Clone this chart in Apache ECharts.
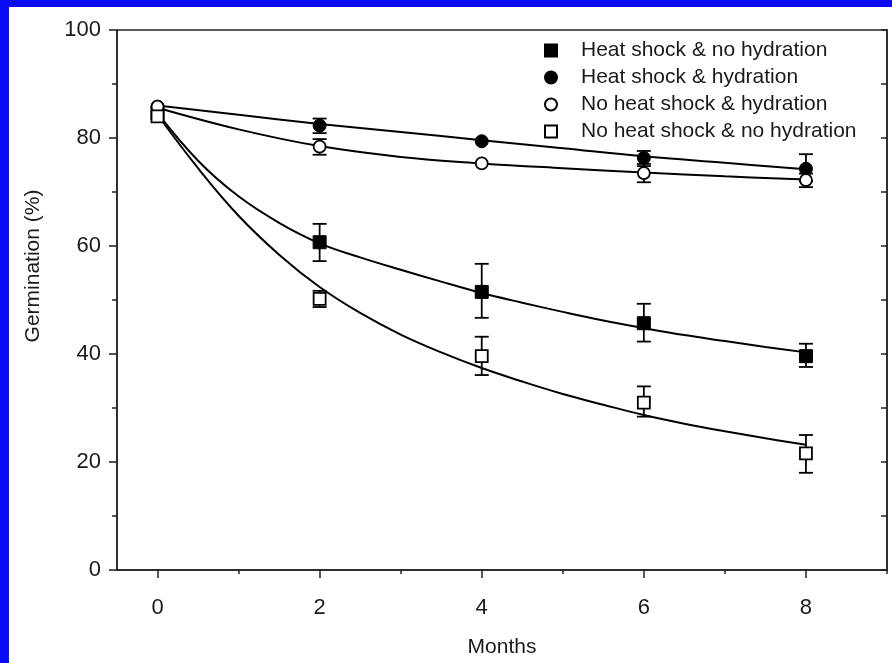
<!DOCTYPE html>
<html>
<head>
<meta charset="utf-8">
<script src="https://cdn.jsdelivr.net/npm/echarts@6/dist/echarts.min.js"></script>
<style>html,body{margin:0;padding:0;background:#fff;}#c{width:892px;height:663px;}</style>
</head>
<body>
<div id="c"></div>
<script>
// ---- data ----
const months = [0, 2, 4, 6, 8];
const xTickLabels = [0, 2, 4, 6, 8];
const xMinorTicks = [1, 3, 5, 7, 9];
const seriesNames = ['Heat shock & no hydration', 'Heat shock & hydration', 'No heat shock & hydration', 'No heat shock & no hydration'];

const hsNoHyd     = [84.5, 60.7, 51.5, 45.7, 39.6];
const hsNoHydLow  = [84.5, 57.2, 46.7, 42.3, 37.6];
const hsNoHydHigh = [84.5, 64.1, 56.7, 49.3, 41.9];

const hsHyd     = [85.8, 82.3, 79.4, 76.3, 74.3];
const hsHydLow  = [85.8, 80.9, 79.4, 74.8, 72.0];
const hsHydHigh = [85.8, 83.6, 79.4, 77.6, 77.0];

const nhsHyd     = [85.8, 78.4, 75.3, 73.5, 72.2];
const nhsHydLow  = [85.8, 76.9, 75.3, 71.8, 70.9];
const nhsHydHigh = [85.8, 79.8, 75.3, 75.2, 73.4];

const nhsNoHyd     = [84.0, 50.2, 39.6, 31.0, 21.6];
const nhsNoHydLow  = [84.0, 48.7, 36.1, 28.4, 18.0];
const nhsNoHydHigh = [84.0, 51.7, 43.2, 34.0, 25.0];

// fitted curves
const fitMonthsLow  = [0, 0.5, 1, 1.5, 2, 2.5, 3, 3.5, 4, 4.5, 5, 5.5, 6, 6.5, 7, 7.5, 8];
const hsNoHydFit    = [84.6, 75.8, 69.2, 64.3, 60.5, 57.9, 55.6, 53.4, 51.3, 49.5, 47.8, 46.2, 44.8, 43.5, 42.4, 41.3, 40.3];
const nhsNoHydFit   = [84.3, 74.4, 65.6, 58.4, 52.4, 47.6, 43.6, 40.3, 37.4, 34.9, 32.6, 30.6, 28.7, 27.1, 25.7, 24.4, 23.2];
const fitMonthsHigh = [0, 1, 2, 3, 4, 5, 6, 7, 8];
const hsHydFit      = [86.0, 84.3, 82.6, 81.1, 79.6, 78.1, 76.6, 75.4, 74.2];
const nhsHydFit     = [85.6, 81.6, 78.5, 76.5, 75.3, 74.4, 73.6, 72.9, 72.3];

// ---- build ----
const FONT = 'Liberation Sans, Arial, sans-serif';
const pairs = (xs, ys) => xs.map((x, i) => [x, ys[i]]);
const errData = (lo, hi) => months.map((m, i) => [m, lo[i], hi[i]]).filter(d => d[2] - d[1] > 0.01);

function errSeries(lo, hi) {
  return {
    type: 'custom', silent: true, z: 3,
    renderItem: function (params, api) {
      const x = api.value(0);
      const pLo = api.coord([x, api.value(1)]);
      const pHi = api.coord([x, api.value(2)]);
      const w = 7;
      const st = { stroke: '#000', lineWidth: 1.8 };
      return {
        type: 'group',
        children: [
          { type: 'line', shape: { x1: pLo[0], y1: pLo[1], x2: pHi[0], y2: pHi[1] }, style: st },
          { type: 'line', shape: { x1: pLo[0] - w, y1: pLo[1], x2: pLo[0] + w, y2: pLo[1] }, style: st },
          { type: 'line', shape: { x1: pHi[0] - w, y1: pHi[1], x2: pHi[0] + w, y2: pHi[1] }, style: st }
        ]
      };
    },
    encode: { x: 0, y: [1, 2] },
    data: errData(lo, hi)
  };
}
function fitSeries(xs, ys) {
  return {
    type: 'line', smooth: 0.4, showSymbol: false, silent: true, z: 2,
    lineStyle: { color: '#000', width: 2 },
    data: pairs(xs, ys)
  };
}
function markSeries(name, ys, symbol, size, filled) {
  return {
    name: name, type: 'scatter', symbol: symbol, symbolSize: size, z: 5,
    itemStyle: filled ? { color: '#000', borderColor: '#000', borderWidth: 1, opacity: 1 }
                      : { color: '#fff', borderColor: '#000', borderWidth: 1.8, opacity: 1 },
    data: pairs(months, ys)
  };
}

const chart = echarts.init(document.getElementById('c'), null, { renderer: 'canvas' });
chart.setOption({
  backgroundColor: '#fff',
  animation: false,
  graphic: [
    { type: 'rect', shape: { x: 0, y: 0, width: 892, height: 7 }, style: { fill: '#0a0af5' }, z: 100 },
    { type: 'rect', shape: { x: 0, y: 0, width: 9, height: 663 }, style: { fill: '#0a0af5' }, z: 100 },
    { type: 'text', x: 33, y: 266, rotation: Math.PI / 2,
      style: { text: 'Germination (%)', font: '21px ' + FONT, fill: '#1a1a1a', align: 'center', verticalAlign: 'middle' } }
  ],
  grid: { left: 117, right: 5, top: 30, bottom: 93, show: true, borderColor: '#222', borderWidth: 1.5,
          containLabel: false, outerBoundsMode: 'none' },
  legend: {
    orient: 'vertical', left: 539, top: 35,
    itemWidth: 12, itemHeight: 12, itemGap: 6,
    textStyle: { fontSize: 21, color: '#1a1a1a', fontFamily: FONT, padding: [0, 0, 0, 19] },
    data: seriesNames
  },
  xAxis: [
    {
      type: 'value', min: -0.5, max: 9,
      name: 'Months', nameLocation: 'middle', nameGap: 67,
      nameTextStyle: { fontSize: 21, color: '#1a1a1a', fontFamily: FONT },
      axisLine: { show: true, onZero: false, lineStyle: { color: '#222', width: 1.5 } },
      axisTick: { show: true, customValues: xTickLabels, length: 8, lineStyle: { color: '#222', width: 1.5 } },
      axisLabel: { customValues: xTickLabels, margin: 27, fontSize: 22, color: '#1a1a1a', fontFamily: FONT },
      splitLine: { show: false }
    },
    {
      type: 'value', min: -0.5, max: 9, position: 'bottom',
      axisLine: { show: false, onZero: false },
      axisTick: { show: true, customValues: xMinorTicks, length: 4, lineStyle: { color: '#222', width: 1.5 } },
      axisLabel: { show: false },
      splitLine: { show: false }
    }
  ],
  yAxis: [
    {
      type: 'value', min: 0, max: 100, interval: 20,
      axisLine: { show: true, onZero: false, lineStyle: { color: '#222', width: 1.5 } },
      axisTick: { show: true, length: 8, lineStyle: { color: '#222', width: 1.5 } },
      minorTick: { show: true, splitNumber: 2, length: 5, lineStyle: { color: '#222', width: 1.5 } },
      axisLabel: { margin: 16, fontSize: 22, color: '#1a1a1a', fontFamily: FONT },
      splitLine: { show: false }
    },
    {
      type: 'value', min: 0, max: 100, interval: 10, position: 'right',
      axisLine: { show: true, onZero: false, lineStyle: { color: '#222', width: 1.5 } },
      axisTick: { show: true, inside: true, length: 6, lineStyle: { color: '#222', width: 1.5 } },
      axisLabel: { show: false },
      splitLine: { show: false }
    }
  ],
  series: [
    fitSeries(fitMonthsLow, hsNoHydFit),
    fitSeries(fitMonthsLow, nhsNoHydFit),
    fitSeries(fitMonthsHigh, hsHydFit),
    fitSeries(fitMonthsHigh, nhsHydFit),
    errSeries(hsNoHydLow, hsNoHydHigh),
    errSeries(hsHydLow, hsHydHigh),
    errSeries(nhsHydLow, nhsHydHigh),
    errSeries(nhsNoHydLow, nhsNoHydHigh),
    markSeries(seriesNames[0], hsNoHyd, 'rect', 13, true),
    markSeries(seriesNames[1], hsHyd, 'circle', 13, true),
    markSeries(seriesNames[2], nhsHyd, 'circle', 12, false),
    markSeries(seriesNames[3], nhsNoHyd, 'rect', 12, false)
  ]
});
</script>
</body>
</html>
